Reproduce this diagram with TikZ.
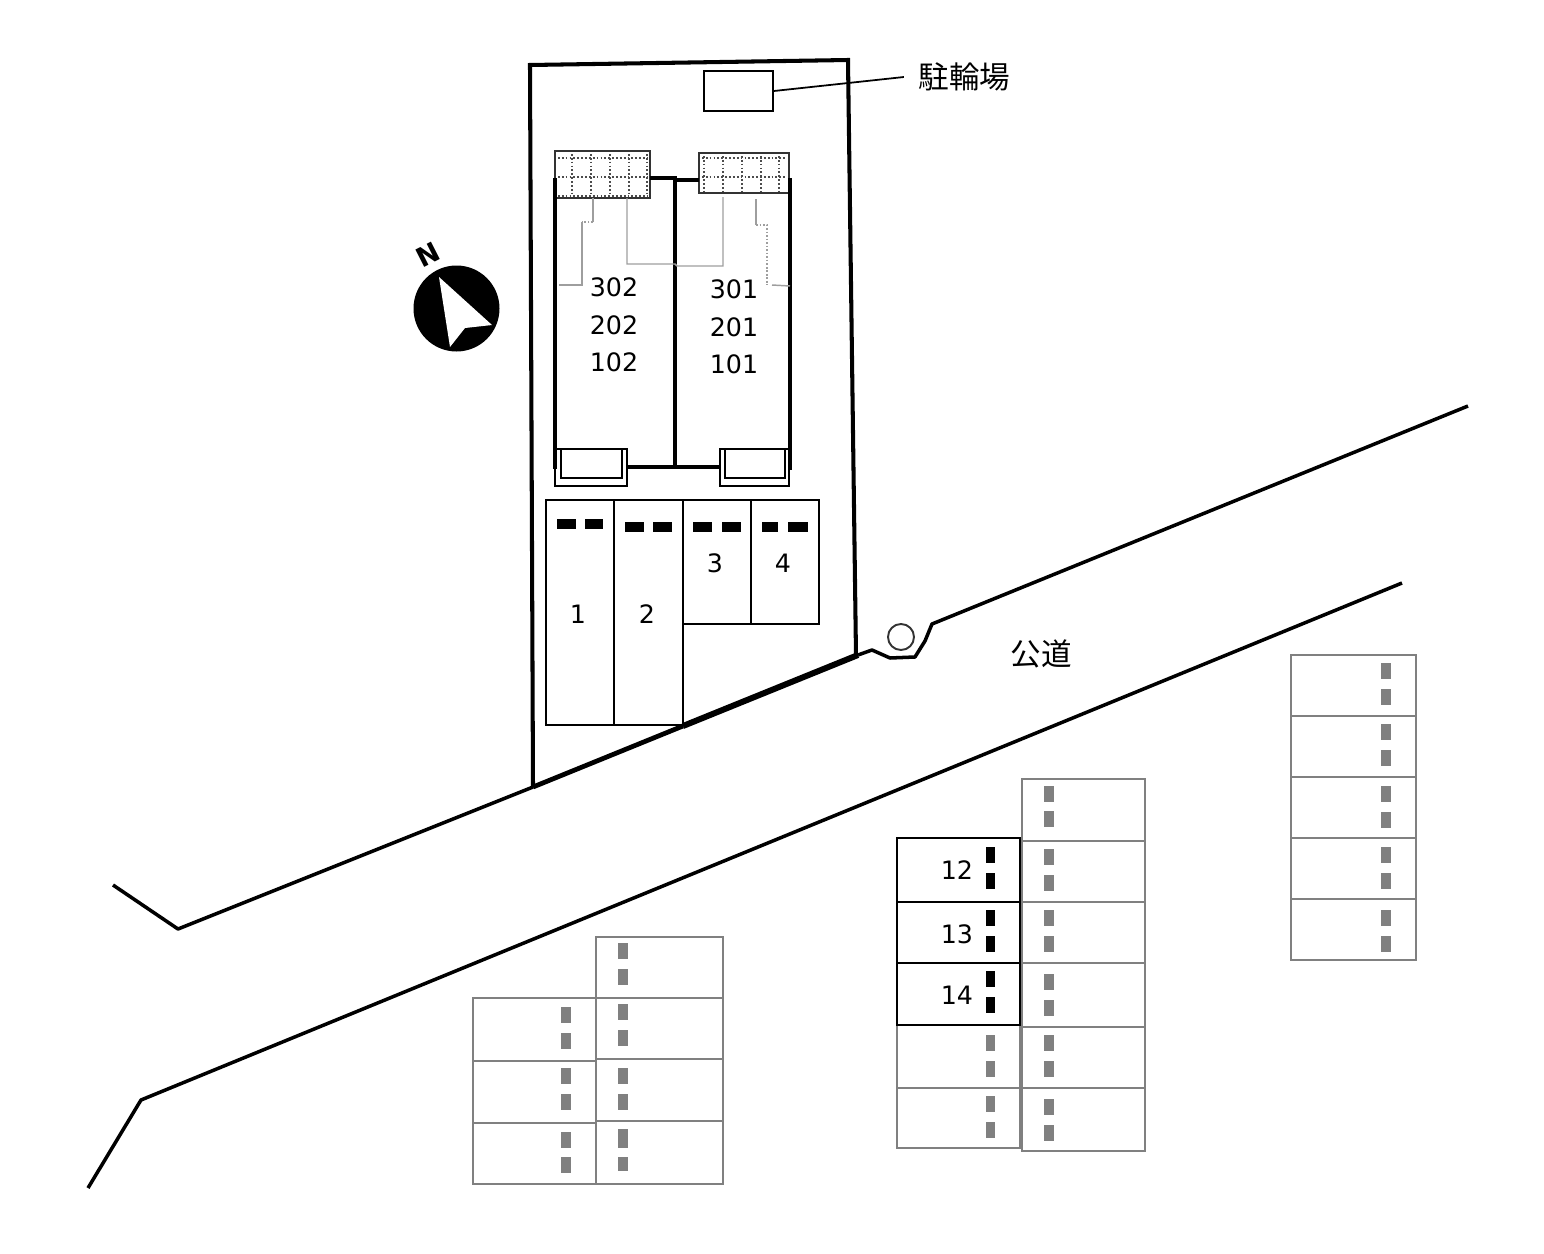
\documentclass[tikz,border=0pt]{standalone}
\usepackage{fontspec}
\setmainfont{DejaVu Sans}
\newfontfamily\cjk{Noto Sans CJK JP}
\usepackage{xcolor}
\usepackage{tikz}

\definecolor{lotgray}{gray}{0.5}
\definecolor{pipegray}{gray}{0.62}

\begin{document}
\begin{tikzpicture}[
    x=0.01cm, y=-0.01cm,
    wall/.style={line width=1.15pt, black},
    road/.style={line width=1pt, black, line join=round},
    thin line/.style={line width=0.5pt, black},
    balcony/.style={line width=0.65pt, black!80},
    lot/.style={line width=0.5pt, draw=lotgray},
    ownlot/.style={line width=0.65pt, draw=black},
    pipe/.style={line width=0.42pt, pipegray},
    pipedots/.style={line width=0.42pt, pipegray, dash pattern=on 0.5pt off 0.5pt},
    grid dots/.style={line width=0.45pt, black!70, dash pattern=on 0.5pt off 0.6pt},
    label/.style={font=\fontsize{7.2}{8}\selectfont, inner sep=0pt},
    kanji/.style={font=\cjk\fontsize{8.7}{10}\selectfont, inner sep=0pt}
    ]
    \useasboundingbox (0,0) rectangle (1544,1254);

    % Road
    \draw[road] (113,885) -- (178,929) -- (533,787);
    \draw[road] (858,655) -- (872,650) -- (890,658) -- (915,657) -- (925,641) -- (932,624) -- (1468,406);
    \draw[road] (88,1188) -- (141,1100) -- (1402,583);
    \draw[line width=1.35pt] (533,787) -- (683,726);
    \draw[line width=1.7pt] (683,726) -- (858,655);
    \node[draw, circle, line width=0.55pt, black!80, minimum size=0.26cm, inner sep=0pt] (post) at (901,637) {};
    \node[kanji] (roadname) at (1041,654) {公道};

    % Site
    \draw[wall] (533,787) -- (530,65) -- (848,60) -- (856,655);

    % Bicycle parking
    \node[draw, thin line, minimum width=0.69cm, minimum height=0.40cm, inner sep=0pt] (bike) at (738.5,91) {};
    \node[kanji, inner sep=0.14cm] (bikename) at (964.5,77) {駐輪場};
    \draw[thin line] (bike.east) -- (bikename.west);

    % Top balconies
    \foreach \x in {572,591,610,629,647}
        \draw[grid dots] (\x,154) -- (\x,196);
    \foreach \y in {158,177,196}
        \draw[grid dots] (558,\y) -- (648,\y);
    \foreach \x in {704,723,742,761,779}
        \draw[grid dots] (\x,156) -- (\x,191);
    \foreach \y in {158,177}
        \draw[grid dots] (702,\y) -- (787,\y);
    \draw[balcony] (555,151) rectangle (650,198);
    \draw[balcony] (699,153) rectangle (789,193);

    % Bottom balconies
    \draw[thin line] (555,449) rectangle (627,486);
    \draw[thin line] (720,449) rectangle (789,486);
    \draw[thin line] (561,449) -- (561,478) -- (622,478) -- (622,449);
    \draw[thin line] (725,449) -- (725,478) -- (785,478) -- (785,449);

    % Building walls
    \draw[wall] (555,178) -- (555,469);
    \draw[wall] (790,178) -- (790,470);
    \draw[wall] (675,178) -- (675,467);
    \draw[wall] (650,178) -- (675,178) -- (675,180) -- (699,180);
    \draw[wall, line width=0.95pt] (627,467) -- (720,467);

    % Pipes
    \draw[pipe] (593,198) -- (593,222);
    \draw[pipedots] (593,222) -- (582,222);
    \draw[pipe] (582,222) -- (582,285) -- (559,285);
    \draw[pipe] (627,198) -- (627,264) -- (675,264) -- (677,266) -- (723,266) -- (723,197);
    \draw[pipe] (756,199) -- (756,225);
    \draw[pipedots] (756,225) -- (767,225) -- (767,285);
    \draw[pipe] (772,285) -- (790,286);

    % Room numbers
    \node[label] (r302) at (614,287) {302};
    \node[label] (r202) at (614,325) {202};
    \node[label] (r102) at (614,362) {102};
    \node[label] (r301) at (734,289) {301};
    \node[label] (r201) at (734,327) {201};
    \node[label] (r101) at (734,364) {101};

    % Own parking
    \draw[thin line] (546,500) rectangle (614,725);
    \draw[thin line] (614,500) rectangle (683,725);
    \draw[thin line] (683,500) rectangle (751,624);
    \draw[thin line] (751,500) rectangle (819,624);
    \foreach \xa/\xb/\xc/\xd/\y in {557/576/585/603/524, 625/644/653/672/527, 693/712/722/741/527, 762/778/788/808/527} {
        \fill[black] (\xa,\y-5) rectangle (\xb,\y+5);
        \fill[black] (\xc,\y-5) rectangle (\xd,\y+5);
    }
    \node[label] (p1) at (578,614) {1};
    \node[label] (p2) at (647,614) {2};
    \node[label] (p3) at (715,563) {3};
    \node[label] (p4) at (783,563) {4};

    % North mark
    \fill[black] (456.5,308.5) circle (43);
    \fill[white] (439,277) -- (492,325) -- (465,328) -- (450,347) -- cycle;
    \node[font=\bfseries\fontsize{7.6}{8}\selectfont, inner sep=0pt, rotate=27] (north) at (428,255) {N};

    % Neighbouring lots, lower left
    \foreach \ya/\yb/\ba/\bb in {937/998/943/969, 998/1059/1004/1030, 1059/1121/1068/1094} {
        \draw[lot] (596,\ya) rectangle (723,\yb);
        \fill[lotgray] (618,\ba) rectangle (628,\ba+16);
        \fill[lotgray] (618,\bb) rectangle (628,\bb+16);
    }
    \draw[lot] (596,1121) rectangle (723,1184);
    \fill[lotgray] (618,1129) rectangle (628,1148);
    \fill[lotgray] (618,1157) rectangle (628,1171);
    \foreach \ya/\yb/\ba/\bb in {998/1061/1007/1033, 1061/1123/1068/1094, 1123/1184/1132/1157} {
        \draw[lot] (473,\ya) rectangle (596,\yb);
        \fill[lotgray] (561,\ba) rectangle (571,\ba+16);
        \fill[lotgray] (561,\bb) rectangle (571,\bb+16);
    }

    % Neighbouring lots, centre
    \foreach \ya/\yb/\ba/\bb in {1025/1088/1035/1061, 1088/1148/1096/1122} {
        \draw[lot] (897,\ya) rectangle (1020,\yb);
        \fill[lotgray] (986,\ba) rectangle (995,\ba+16);
        \fill[lotgray] (986,\bb) rectangle (995,\bb+16);
    }
    \foreach \ya/\yb/\ba/\bb in {779/841/786/811, 841/902/849/875, 902/963/910/936, 963/1027/974/1000, 1027/1088/1035/1061, 1088/1151/1099/1125} {
        \draw[lot] (1022,\ya) rectangle (1145,\yb);
        \fill[lotgray] (1044,\ba) rectangle (1054,\ba+16);
        \fill[lotgray] (1044,\bb) rectangle (1054,\bb+16);
    }

    % Neighbouring lots, right
    \foreach \ya/\yb/\ba/\bb in {655/716/663/689, 716/777/724/750, 777/838/786/812, 838/899/847/873, 899/960/910/936} {
        \draw[lot] (1291,\ya) rectangle (1416,\yb);
        \fill[lotgray] (1381,\ba) rectangle (1391,\ba+16);
        \fill[lotgray] (1381,\bb) rectangle (1391,\bb+16);
    }

    % Lots 12 to 14
    \foreach \ya/\yb/\ba/\bb/\num/\ny in {838/902/847/873/12/870, 902/963/910/936/13/934, 963/1025/971/997/14/995} {
        \draw[ownlot] (897,\ya) rectangle (1020,\yb);
        \fill[black] (986,\ba) rectangle (995,\ba+16);
        \fill[black] (986,\bb) rectangle (995,\bb+16);
        \node[label] (n\num) at (957,\ny) {\num};
    }
\end{tikzpicture}
\end{document}
